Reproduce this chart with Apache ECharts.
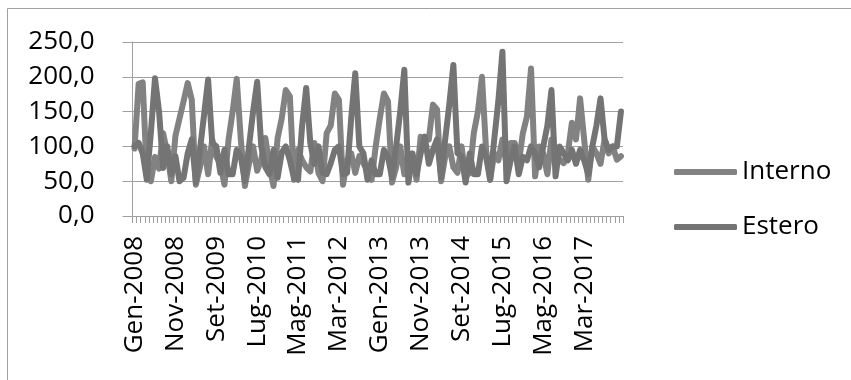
<!DOCTYPE html>
<html>
<head>
<meta charset="utf-8">
<script src="https://cdn.jsdelivr.net/npm/echarts@6/dist/echarts.min.js"></script>
<style>
html,body{margin:0;padding:0;background:#fff;}
#chart{width:851px;height:380px;}
</style>
</head>
<body>
<div id="chart"></div>
<script>
var monthNames = ['Gen','Feb','Mar','Apr','Mag','Giu','Lug','Ago','Set','Ott','Nov','Dic'];
var years = [2008,2009,2010,2011,2012,2013,2014,2015,2016,2017];
var categories = [];
years.forEach(function(y){ monthNames.forEach(function(m){ categories.push(m + '-' + y); }); });

var seriesNames = ['Interno','Estero'];
var yTicks = [0,50,100,150,200,250];

var interno = [
97,190,192,60,50,85,68,119,90,50,115,140,
165,191,167,45,70,100,60,110,85,75,45,110,
150,197,110,43,75,100,65,81,112,72,43,112,
140,181,172,52,95,80,70,64,105,62,50,119,
130,176,167,45,80,90,62,86,76,64,52,100,
140,176,165,48,70,100,60,90,81,52,114,110,
110,160,153,50,85,100,70,62,100,57,62,119,
150,200,95,52,90,80,110,75,105,105,76,119,
143,212,57,100,90,60,110,90,81,76,90,134,
110,169,110,52,100,90,75,110,90,100,81,86
];
var estero = [
100,105,90,52,120,198,150,69,100,60,86,50,
55,90,110,48,95,145,196,105,100,62,95,60,
60,95,85,50,100,150,193,100,70,60,95,55,
91,100,80,55,52,130,184,105,75,100,62,60,
76,95,100,60,62,140,205,100,90,52,80,60,
60,95,85,55,100,150,210,48,90,60,90,114,
75,95,110,55,110,160,217,90,86,48,90,60,
60,100,85,52,110,165,236,50,80,100,60,85,
80,100,90,70,100,130,181,57,100,90,80,95,
75,95,80,60,100,130,169,110,95,100,100,150
];

var colors = ['#828282','#747474'];
var font = '"Open Sans", "DejaVu Sans", sans-serif';

var chart = echarts.init(document.getElementById('chart'), null, {renderer:'canvas'});
chart.setOption({
  animation:false,
  backgroundColor:'#ffffff',
  graphic:[{
    type:'rect', silent:true,
    shape:{x:7.5,y:8.5,width:900,height:420},
    style:{fill:'none',stroke:'#a0a0a0',lineWidth:1}
  }],
  grid:{left:132.5,right:228,top:42,bottom:164,containLabel:false},
  legend:{
    orient:'vertical', left:669, top:152, itemGap:25,
    itemWidth:63, itemHeight:6, icon:'roundRect',
    textStyle:{fontFamily:font,fontSize:26,color:'#000',lineHeight:30},
    data:seriesNames
  },
  xAxis:{
    type:'category', data:categories, boundaryGap:true,
    axisLine:{show:true,lineStyle:{color:'#a0a0a0',width:1}},
    axisTick:{show:true,interval:0,length:7,inside:false,lineStyle:{color:'#a0a0a0'}},
    axisLabel:{interval:9,rotate:90,margin:20,fontFamily:font,fontSize:26,color:'#000'},
    splitLine:{show:false}
  },
  yAxis:{
    type:'value', min:yTicks[0], max:yTicks[yTicks.length-1], interval:50,
    axisLine:{show:true,lineStyle:{color:'#a0a0a0',width:1}},
    axisTick:{show:true,length:10,lineStyle:{color:'#a0a0a0'}},
    axisLabel:{margin:38,fontFamily:font,fontSize:26,color:'#000',
      formatter:function(v){return v.toFixed(1).replace('.',',');}},
    splitLine:{show:true,lineStyle:{color:'#a0a0a0',width:1}}
  },
  series:[
    {name:seriesNames[0],type:'line',data:interno,showSymbol:false,symbol:'none',
     itemStyle:{color:colors[0]},
     lineStyle:{color:colors[0],width:6,cap:'round',join:'round'}},
    {name:seriesNames[1],type:'line',data:estero,showSymbol:false,symbol:'none',
     itemStyle:{color:colors[1]},
     lineStyle:{color:colors[1],width:6,cap:'round',join:'round'}}
  ]
});
</script>
</body>
</html>
